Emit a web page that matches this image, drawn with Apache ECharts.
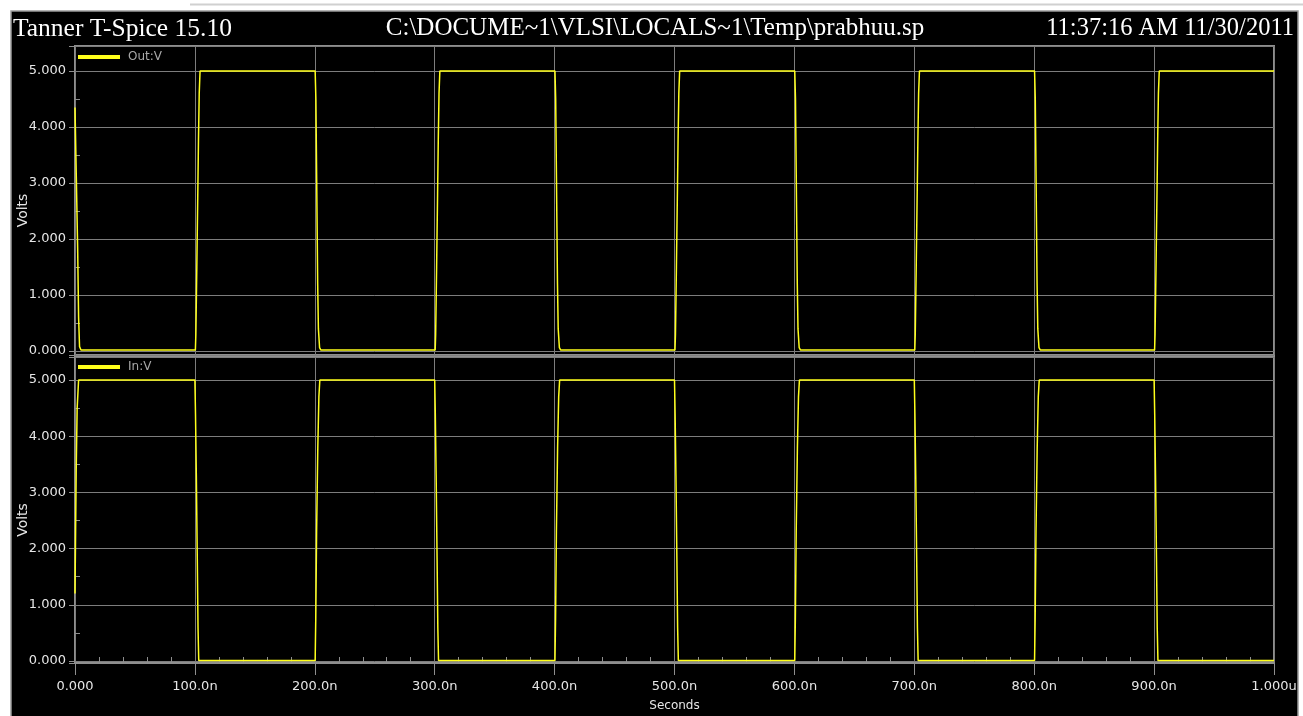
<!DOCTYPE html>
<html>
<head>
<meta charset="utf-8">
<script src="https://cdn.jsdelivr.net/npm/echarts@6/dist/echarts.min.js"></script>
<style>
  html, body { margin: 0; padding: 0; background: #ffffff; }
  #chart { width: 1303px; height: 716px; }
</style>
</head>
<body>
<div id="chart"></div>
<script>
// Header texts
const headerLeft = 'Tanner T-Spice 15.10';
const headerCenter = 'C:\\DOCUME~1\\VLSI\\LOCALS~1\\Temp\\prabhuu.sp';
const headerRight = '11:37:16 AM 11/30/2011';

// X tick labels (time in ns)
const timeTicks = [0, 100, 200, 300, 400, 500, 600, 700, 800, 900, 1000];
const timeTickLabels = ['0.000', '100.0n', '200.0n', '300.0n', '400.0n', '500.0n',
                        '600.0n', '700.0n', '800.0n', '900.0n', '1.000u'];
const voltTickLabels = ['0.000', '1.000', '2.000', '3.000', '4.000', '5.000'];

// Out:V waveform (time ns, volts)
const outTimes = [
  0, 1.1, 2.2, 3.0, 3.8, 5,
  100.4, 100.8, 101.6, 102.4, 103.0, 103.6, 104.3,
  200.3, 200.9, 201.6, 202.4, 203.0, 204.0, 205.0,
  300.4, 300.8, 301.6, 302.4, 303.0, 303.6, 304.3,
  400.3, 400.9, 401.6, 402.4, 403.0, 404.0, 405.0,
  500.4, 500.8, 501.6, 502.4, 503.0, 503.6, 504.3,
  600.3, 600.9, 601.6, 602.4, 603.0, 604.0, 605.0,
  700.4, 700.8, 701.6, 702.4, 703.0, 703.6, 704.3,
  800.3, 800.9, 801.6, 802.4, 803.0, 804.0, 805.0,
  900.4, 900.8, 901.6, 902.4, 903.0, 903.6, 904.3,
  1000
];
const outVolts = [
  4.35, 3.1, 1.85, 0.6, 0.08, 0.02,
  0.02, 0.3, 1.5, 2.8, 3.8, 4.6, 5.0,
  5.0, 4.5, 3.0, 1.2, 0.4, 0.06, 0.02,
  0.02, 0.3, 1.5, 2.8, 3.8, 4.6, 5.0,
  5.0, 4.5, 3.0, 1.2, 0.4, 0.06, 0.02,
  0.02, 0.3, 1.5, 2.8, 3.8, 4.6, 5.0,
  5.0, 4.5, 3.0, 1.2, 0.4, 0.06, 0.02,
  0.02, 0.3, 1.5, 2.8, 3.8, 4.6, 5.0,
  5.0, 4.5, 3.0, 1.2, 0.4, 0.06, 0.02,
  0.02, 0.3, 1.5, 2.8, 3.8, 4.6, 5.0,
  5.0
];

// In:V waveform (time ns, volts)
const inTimes = [
  0, 0.5, 1.0, 1.8, 3.0,
  100.0, 100.5, 101.2, 102.0, 102.6, 103.2,
  200.3, 200.8, 201.5, 202.5, 203.4, 204.2,
  300.0, 300.5, 301.2, 302.0, 302.6, 303.2,
  400.3, 400.8, 401.5, 402.5, 403.4, 404.2,
  500.0, 500.5, 501.2, 502.0, 502.6, 503.2,
  600.3, 600.8, 601.5, 602.5, 603.4, 604.2,
  700.0, 700.5, 701.2, 702.0, 702.6, 703.2,
  800.3, 800.8, 801.5, 802.5, 803.4, 804.2,
  900.0, 900.5, 901.2, 902.0, 902.6, 903.2,
  1000
];
const inVolts = [
  1.2, 2.3, 3.4, 4.5, 5.0,
  5.0, 4.4, 3.3, 1.8, 0.6, 0.01,
  0.01, 0.75, 2.3, 3.8, 4.7, 5.0,
  5.0, 4.4, 3.3, 1.8, 0.6, 0.01,
  0.01, 0.75, 2.3, 3.8, 4.7, 5.0,
  5.0, 4.4, 3.3, 1.8, 0.6, 0.01,
  0.01, 0.75, 2.3, 3.8, 4.7, 5.0,
  5.0, 4.4, 3.3, 1.8, 0.6, 0.01,
  0.01, 0.75, 2.3, 3.8, 4.7, 5.0,
  5.0, 4.4, 3.3, 1.8, 0.6, 0.01,
  0.01
];

const gridGrey = '#7d7d7d';
const frameGrey = '#8e8e8e';
const labelColor = '#e6e6e6';
const traceYellow = '#ffff1a';
const sansFont = 'DejaVu Sans';

function pairs(ts, vs) { return ts.map((t, i) => [t, vs[i]]); }

function timeLabel(v) {
  const i = timeTicks.indexOf(v);
  return i >= 0 ? timeTickLabels[i] : '';
}
function voltLabel(v) {
  const r = Math.round(v);
  return Math.abs(v - r) < 1e-6 && r >= 0 && r <= 5 ? voltTickLabels[r] : '';
}

function mainY(gridIndex, min, max) {
  return {
    type: 'value', gridIndex, position: 'left', min, max, splitNumber: 5,
    name: 'Volts', nameLocation: 'middle', nameGap: 45, nameRotate: 90, nameMoveOverlap: false,
    nameTextStyle: { color: labelColor, fontFamily: sansFont, fontSize: 14, padding: [0, 20, 0, 0] },
    axisLine: { show: false },
    axisTick: { show: true, length: 6, lineStyle: { color: frameGrey, width: 1 } },
    axisLabel: { color: labelColor, fontFamily: sansFont, fontSize: 13, margin: 9, formatter: voltLabel },
    splitLine: { show: true, lineStyle: { color: gridGrey, width: 1 } }
  };
}
function minorY(gridIndex, min, max) {
  return {
    type: 'value', gridIndex, position: 'left', min, max, splitNumber: 5,
    axisLine: { show: false },
    axisTick: { show: false, inside: true },
    minorTick: { show: true, splitNumber: 2, length: 5, lineStyle: { color: frameGrey, width: 1 } },
    axisLabel: { show: false },
    splitLine: { show: false }
  };
}

function headerStyle(size) {
  return { color: '#ffffff', fontFamily: 'Liberation Serif', fontSize: size, fontWeight: 'normal' };
}

const option = {
  backgroundColor: '#ffffff',
  animation: false,
  graphic: [
    { type: 'rect', z: -10, shape: { x: 11, y: 11, width: 1287, height: 706 },
      style: { fill: '#000000', stroke: '#9a9a9a', lineWidth: 1.5 } },
    { type: 'line', z: -10, shape: { x1: 190, y1: 4.5, x2: 1303, y2: 4.5 },
      style: { stroke: '#d0d0d0', lineWidth: 2 } }
  ],
  title: [
    { text: headerLeft, left: 13, top: 16, padding: 0, textStyle: headerStyle(25.5) },
    { text: headerCenter, left: 655, top: 16, padding: 0, textAlign: 'center', textStyle: headerStyle(25) },
    { text: headerRight, right: 9, top: 16, padding: 0, textStyle: headerStyle(24.5) }
  ],
  legend: [
    { data: ['Out:V'], left: 78, top: 51, icon: 'rect', itemWidth: 42, itemHeight: 4, padding: 0,
      textStyle: { color: '#a8a8a8', fontFamily: sansFont, fontSize: 12, padding: [0, 0, 0, 3] } },
    { data: ['In:V'], left: 78, top: 361, icon: 'rect', itemWidth: 42, itemHeight: 4, padding: 0,
      textStyle: { color: '#a8a8a8', fontFamily: sansFont, fontSize: 12, padding: [0, 0, 0, 3] } }
  ],
  grid: [
    { left: 75, right: 29, top: 46, height: 309, show: true, backgroundColor: '#000000',
      borderColor: frameGrey, borderWidth: 2 },
    { left: 75, right: 29, top: 357, height: 306, show: true, backgroundColor: '#000000',
      borderColor: frameGrey, borderWidth: 2 }
  ],
  xAxis: [
    { type: 'value', gridIndex: 0, min: 0, max: 1000, interval: 100,
      axisLine: { show: false }, axisTick: { show: false }, axisLabel: { show: false },
      splitLine: { show: true, lineStyle: { color: gridGrey, width: 1 } } },
    { type: 'value', gridIndex: 1, min: 0, max: 1000, interval: 100, position: 'bottom',
      name: 'Seconds', nameLocation: 'middle', nameGap: 37,
      nameTextStyle: { color: labelColor, fontFamily: sansFont, fontSize: 12 },
      axisLine: { show: true, onZero: false, lineStyle: { color: frameGrey, width: 2 } },
      axisTick: { show: true, length: 12, lineStyle: { color: frameGrey, width: 1 } },
      axisLabel: { color: labelColor, fontFamily: sansFont, fontSize: 13, margin: 17, formatter: timeLabel },
      splitLine: { show: true, lineStyle: { color: gridGrey, width: 1 } } },
    { type: 'value', gridIndex: 1, min: 0, max: 1000, interval: 100, position: 'bottom',
      axisLine: { show: false, onZero: false },
      axisTick: { show: false, inside: true },
      minorTick: { show: true, splitNumber: 5, length: 6, lineStyle: { color: frameGrey, width: 1 } },
      axisLabel: { show: false }, splitLine: { show: false } }
  ],
  yAxis: [
    mainY(0, -0.07, 5.446),
    minorY(0, -0.07, 5.446),
    mainY(1, -0.036, 5.41),
    minorY(1, -0.036, 5.41)
  ],
  series: [
    { name: 'Out:V', type: 'line', xAxisIndex: 0, yAxisIndex: 0, data: pairs(outTimes, outVolts),
      showSymbol: false, itemStyle: { color: traceYellow },
      lineStyle: { color: traceYellow, width: 1.5 } },
    { name: 'In:V', type: 'line', xAxisIndex: 1, yAxisIndex: 2, data: pairs(inTimes, inVolts),
      showSymbol: false, itemStyle: { color: traceYellow },
      lineStyle: { color: traceYellow, width: 1.5 } }
  ]
};

const chart = echarts.init(document.getElementById('chart'), null, { renderer: 'canvas' });
chart.setOption(option);
</script>
</body>
</html>
